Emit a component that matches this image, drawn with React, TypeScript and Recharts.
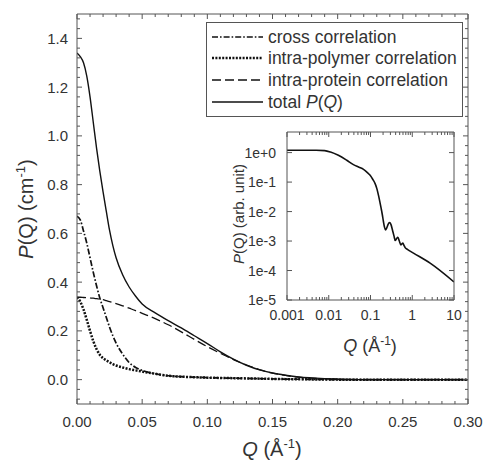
import React from "react";
import { LineChart, Line, XAxis, YAxis, Legend } from "recharts";

const W = 485;
const H = 464;

// main plot: P(Q) vs Q
const q = [0, 0.0025, 0.005, 0.0075, 0.01, 0.0125, 0.015, 0.0175, 0.02, 0.0225, 0.025, 0.0275, 0.03, 0.035, 0.04, 0.045, 0.05, 0.06, 0.07, 0.08, 0.09, 0.1, 0.11, 0.12, 0.13, 0.14, 0.15, 0.16, 0.17, 0.18, 0.19, 0.2, 0.22, 0.25, 0.3];
const crossCorr = [0.67, 0.655, 0.61, 0.56, 0.5, 0.44, 0.385, 0.335, 0.295, 0.255, 0.215, 0.18, 0.15, 0.105, 0.07, 0.05, 0.038, 0.024, 0.016, 0.012, 0.01, 0.008, 0.007, 0.006, 0.005, 0.004, 0.003, 0.002, 0.0015, 0.001, 0.0005, 0, 0, 0, 0];
const polymerCorr = [0.338, 0.32, 0.288, 0.245, 0.2, 0.158, 0.125, 0.102, 0.088, 0.079, 0.071, 0.064, 0.058, 0.05, 0.043, 0.038, 0.033, 0.024, 0.016, 0.012, 0.01, 0.008, 0.007, 0.006, 0.005, 0.004, 0.003, 0.002, 0.0015, 0.001, 0.0005, 0, 0, 0, 0];
const proteinCorr = [0.338, 0.338, 0.337, 0.336, 0.335, 0.334, 0.332, 0.33, 0.328, 0.324, 0.32, 0.316, 0.312, 0.303, 0.293, 0.283, 0.272, 0.25, 0.225, 0.196, 0.165, 0.135, 0.108, 0.082, 0.06, 0.041, 0.027, 0.017, 0.01, 0.006, 0.003, 0.001, 0, 0, 0];
const totalPQ = [1.34, 1.325, 1.3, 1.245, 1.16, 1.055, 0.95, 0.855, 0.77, 0.69, 0.612, 0.55, 0.5, 0.43, 0.38, 0.342, 0.31, 0.274, 0.242, 0.212, 0.18, 0.148, 0.114, 0.084, 0.059, 0.04, 0.027, 0.018, 0.011, 0.007, 0.004, 0.002, 0, 0, 0];

const xMajor = [0, 0.05, 0.1, 0.15, 0.2, 0.25, 0.3];
const xMajorLabels = ["0.00", "0.05", "0.10", "0.15", "0.20", "0.25", "0.30"];
const xMinor = [0.01, 0.02, 0.03, 0.04, 0.06, 0.07, 0.08, 0.09, 0.11, 0.12, 0.13, 0.14, 0.16, 0.17, 0.18, 0.19, 0.21, 0.22, 0.23, 0.24, 0.26, 0.27, 0.28, 0.29];
const yMajor = [0, 0.2, 0.4, 0.6, 0.8, 1.0, 1.2, 1.4];
const yMajorLabels = ["0.0", "0.2", "0.4", "0.6", "0.8", "1.0", "1.2", "1.4"];
const yMinor = [-0.08, -0.04, 0.04, 0.08, 0.12, 0.16, 0.24, 0.28, 0.32, 0.36, 0.44, 0.48, 0.52, 0.56, 0.64, 0.68, 0.72, 0.76, 0.84, 0.88, 0.92, 0.96, 1.04, 1.08, 1.12, 1.16, 1.24, 1.28, 1.32, 1.36, 1.44, 1.48];

// inset: log-log
const qInset = [0.001, 0.002, 0.005, 0.008, 0.011, 0.017, 0.027, 0.039, 0.053, 0.068, 0.083, 0.098, 0.113, 0.129, 0.142, 0.155, 0.168, 0.18, 0.192, 0.204, 0.216, 0.229, 0.245, 0.264, 0.285, 0.31, 0.34, 0.365, 0.39, 0.42, 0.452, 0.49, 0.533, 0.565, 0.596, 0.636, 0.676, 0.75, 1.07, 2.68, 10];
const pInset = [1.2, 1.2, 1.2, 1.17, 1.05, 0.81, 0.55, 0.39, 0.32, 0.27, 0.215, 0.17, 0.125, 0.089, 0.06, 0.036, 0.021, 0.0128, 0.0078, 0.0046, 0.003, 0.0024, 0.0028, 0.0037, 0.0042, 0.0036, 0.0022, 0.0015, 0.00104, 0.0012, 0.00135, 0.001, 0.00074, 0.0008, 0.00085, 0.0007, 0.0006, 0.00053, 0.00039, 0.000178, 0.000041];

const insetXMajor = [0.001, 0.01, 0.1, 1, 10];
const insetXLabels = ["0.001", "0.01", "0.1", "1", "10"];
const insetXMinor = [0.002, 0.003, 0.004, 0.005, 0.006, 0.007, 0.008, 0.009, 0.02, 0.03, 0.04, 0.05, 0.06, 0.07, 0.08, 0.09, 0.2, 0.3, 0.4, 0.5, 0.6, 0.7, 0.8, 0.9, 2, 3, 4, 5, 6, 7, 8, 9];
const insetYMajor = [0.00001, 0.0001, 0.001, 0.01, 0.1, 1];
const insetYLabels = ["1e-5", "1e-4", "1e-3", "1e-2", "1e-1", "1e+0"];

const seriesNames = ["cross correlation", "intra-polymer correlation", "intra-protein correlation", "total"];

const mainData = q.map((v, i) => ({
  q: v,
  cross: crossCorr[i],
  polymer: polymerCorr[i],
  protein: proteinCorr[i],
  total: totalPQ[i],
}));
const insetData = qInset.map((v, i) => ({ q: v, p: pInset[i] }));

const FONT = "'Liberation Sans', Arial, Helvetica, sans-serif";
const TXT = "#333";
const AX = "#555";
const INK = "#111";

const styles = [
  { key: "cross", dash: "6 2 1.6 2", w: 1.7 },
  { key: "polymer", dash: "2 1.4", w: 2.5 },
  { key: "protein", dash: "9 4", w: 1.3 },
  { key: "total", dash: undefined as string | undefined, w: 1.4 },
];

function findMajor(majors: number[], v: number) {
  return majors.findIndex((m) => Math.abs(m - v) <= Math.abs(m) * 1e-6 + 1e-9);
}

// ticks point inward; labels only on major ticks
function makeTick(side: "bottom" | "top" | "left" | "right", majors: number[], labels: string[] | null, fontSize: number, gap: number) {
  return (props: any) => {
    const { x, y, payload } = props;
    const idx = findMajor(majors, payload.value);
    const len = idx >= 0 ? 5 : 3;
    let line;
    if (side === "bottom") line = <line x1={x} y1={y} x2={x} y2={y - len} stroke={AX} />;
    else if (side === "top") line = <line x1={x} y1={y} x2={x} y2={y + len} stroke={AX} />;
    else if (side === "left") line = <line x1={x} y1={y} x2={x + len} y2={y} stroke={AX} />;
    else line = <line x1={x} y1={y} x2={x - len} y2={y} stroke={AX} />;
    let label = null;
    if (labels && idx >= 0) {
      if (side === "bottom")
        label = (
          <text x={x} y={y + gap} textAnchor="middle" fontSize={fontSize} fill={TXT} fontFamily={FONT}>
            {labels[idx]}
          </text>
        );
      else if (side === "left")
        label = (
          <text x={x - gap} y={y + fontSize * 0.36} textAnchor="end" fontSize={fontSize} fill={TXT} fontFamily={FONT}>
            {labels[idx]}
          </text>
        );
    }
    return (
      <g>
        {line}
        {label}
      </g>
    );
  };
}

function LegendBox() {
  const rows = [15, 36, 58, 80];
  return (
    <div style={{ width: 257, height: 95, boxSizing: "border-box", border: `1px solid ${AX}`, background: "#fff" }}>
      <svg width={255} height={93} style={{ display: "block" }}>
        {seriesNames.map((name, i) => (
          <g key={name}>
            <line x1={5} x2={56} y1={rows[i] - 1} y2={rows[i] - 1} stroke={INK} strokeWidth={styles[i].w} strokeDasharray={styles[i].dash} />
            <text x={61} y={rows[i] + 5} fontSize={17.5} fill={TXT} fontFamily={FONT}>
              {name === "total" ? (
                <>
                  total <tspan fontStyle="italic">P</tspan>(<tspan fontStyle="italic">Q</tspan>)
                </>
              ) : (
                name
              )}
            </text>
          </g>
        ))}
      </svg>
    </div>
  );
}

const axisCommon = {
  type: "number" as const,
  allowDataOverflow: true,
  interval: 0 as const,
  tickSize: 0,
  tickMargin: 0,
  tickLine: false,
  axisLine: { stroke: AX },
};

export default function App() {
  const mainTicksX = [...xMajor, ...xMinor].sort((a, b) => a - b);
  const mainTicksY = [...yMajor, ...yMinor].sort((a, b) => a - b);
  const insTicksX = [...insetXMajor, ...insetXMinor].sort((a, b) => a - b);

  return (
    <div style={{ position: "absolute", left: 0, top: 0, width: W, height: H, background: "#fff", fontFamily: FONT }}>
      <div style={{ position: "absolute", left: 0, top: 0 }}>
        <LineChart width={W} height={H} data={mainData} margin={{ top: 13, right: 16, bottom: 59, left: 76 }}>
          <XAxis {...axisCommon} xAxisId="b" dataKey="q" domain={[0, 0.3]} ticks={mainTicksX} height={1} tick={makeTick("bottom", xMajor, xMajorLabels, 15, 23)} />
          <XAxis {...axisCommon} xAxisId="t" orientation="top" dataKey="q" domain={[0, 0.3]} ticks={mainTicksX} height={1} tick={makeTick("top", xMajor, null, 15, 0)} />
          <YAxis {...axisCommon} yAxisId="l" domain={[-0.1, 1.5]} ticks={mainTicksY} width={1} tick={makeTick("left", yMajor, yMajorLabels, 15, 9)} />
          <YAxis {...axisCommon} yAxisId="r" orientation="right" domain={[-0.1, 1.5]} ticks={mainTicksY} width={1} tick={makeTick("right", yMajor, null, 15, 0)} />
          {styles.map((s) => (
            <Line key={s.key} xAxisId="b" yAxisId="l" type="monotone" dataKey={s.key} stroke={INK} strokeWidth={s.w} strokeDasharray={s.dash} dot={false} isAnimationActive={false} />
          ))}
          <Legend layout="vertical" align="center" verticalAlign="middle" content={() => <LegendBox />} wrapperStyle={{ left: 206, top: 22, width: 257, height: 95 }} />
        </LineChart>
      </div>

      <div style={{ position: "absolute", left: 0, top: 0 }}>
        <LineChart width={W} height={H} data={insetData} margin={{ top: 131, right: 30, bottom: 163, left: 286 }}>
          <XAxis {...axisCommon} xAxisId="b" dataKey="q" scale="log" domain={[0.001, 10]} ticks={insTicksX} height={1} tick={makeTick("bottom", insetXMajor, insetXLabels, 14, 20)} />
          <XAxis {...axisCommon} xAxisId="t" orientation="top" dataKey="q" scale="log" domain={[0.001, 10]} ticks={insTicksX} height={1} tick={makeTick("top", insetXMajor, null, 14, 0)} />
          <YAxis {...axisCommon} yAxisId="l" scale="log" domain={[0.00001, 5]} ticks={insetYMajor} width={1} tick={makeTick("left", insetYMajor, insetYLabels, 14, 11)} />
          <YAxis {...axisCommon} yAxisId="r" orientation="right" scale="log" domain={[0.00001, 5]} ticks={insetYMajor} width={1} tick={makeTick("right", insetYMajor, null, 14, 0)} />
          <Line xAxisId="b" yAxisId="l" type="monotone" dataKey="p" stroke={INK} strokeWidth={1.6} dot={false} isAnimationActive={false} />
        </LineChart>
      </div>

      <svg width={W} height={H} style={{ position: "absolute", left: 0, top: 0, pointerEvents: "none" }}>
        <text x={272} y={456} textAnchor="middle" fontSize={20} fill={TXT} fontFamily={FONT}>
          <tspan fontStyle="italic">Q</tspan> (Å<tspan dy={-8} fontSize={13}>-1</tspan>
          <tspan dy={8}>)</tspan>
        </text>
        <text transform="translate(33,209) rotate(-90)" textAnchor="middle" fontSize={20} fill={TXT} fontFamily={FONT}>
          <tspan fontStyle="italic">P</tspan>(Q) (cm<tspan dy={-8} fontSize={13}>-1</tspan>
          <tspan dy={8}>)</tspan>
        </text>
        <text x={370} y={352} textAnchor="middle" fontSize={18} fill={TXT} fontFamily={FONT}>
          <tspan fontStyle="italic">Q</tspan> (Å<tspan dy={-7} fontSize={12}>-1</tspan>
          <tspan dy={7}>)</tspan>
        </text>
        <text transform="translate(244,214) rotate(-90)" textAnchor="middle" fontSize={15} fill={TXT} fontFamily={FONT}>
          <tspan fontStyle="italic">P</tspan>(Q) (arb. unit)
        </text>
      </svg>
    </div>
  );
}
